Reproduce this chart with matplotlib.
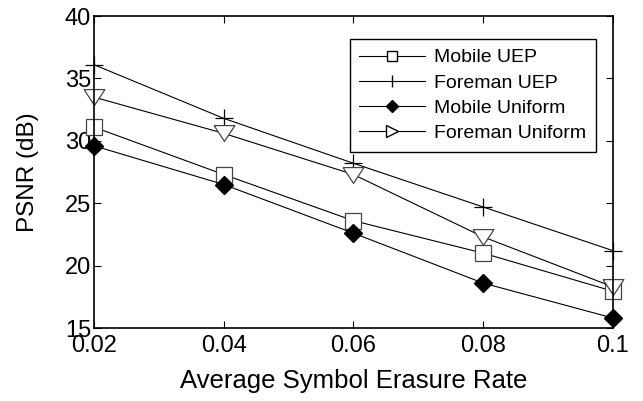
import numpy as np
import matplotlib
matplotlib.use("Agg")
import matplotlib.pyplot as plt
from matplotlib.lines import Line2D

plt.rcParams['font.family'] = ['Liberation Sans', 'DejaVu Sans']

# data
rate = [0.02, 0.04, 0.06, 0.08, 0.1]
mobile_uep = [31.1, 27.3, 23.6, 21.0, 17.95]
foreman_uep = [36.1, 31.8, 28.2, 24.7, 21.2]
mobile_uniform = [29.6, 26.5, 22.6, 18.6, 15.8]
foreman_uniform = [33.5, 30.6, 27.3, 22.3, 18.3]
labels = ['Mobile UEP', 'Foreman UEP', 'Mobile Uniform', 'Foreman Uniform']
xtick_labels = ['0.02', '0.04', '0.06', '0.08', '0.1']

# wide, flat down-triangle like matlab's 'v'
tri_down = [(-1, 0.76), (1, 0.76), (0, -0.76), (-1, 0.76)]

fig = plt.figure(figsize=(6.43, 4.01), dpi=100)
ax = fig.add_axes([0.1462, 0.182, 0.807, 0.778])

lw = 0.8
ax.plot(rate, mobile_uep, color='k', lw=lw, marker='s', ms=12, mfc='white', mec='#444444', mew=0.9, clip_on=False)
ax.plot(rate, foreman_uep, color='k', lw=lw, marker='+', ms=13, mew=0.9, clip_on=False)
ax.plot(rate, mobile_uniform, color='k', lw=lw, marker='D', ms=9, mfc='k', mec='k', clip_on=False)
ax.plot(rate, foreman_uniform, color='k', lw=lw, marker=tri_down, ms=15, mfc='white', mec='#444444', mew=0.9, clip_on=False)

ax.set_xlim(0.02, 0.1)
ax.set_ylim(15, 40)
ax.set_xticks(rate)
ax.set_xticklabels(xtick_labels)
ax.set_yticks([15, 20, 25, 30, 35, 40])
ax.tick_params(direction='in', length=5, width=0.8, top=True, right=True, labelsize=17)
ax.tick_params(axis='x', pad=5)
ax.tick_params(axis='y', pad=2)
for s in ax.spines.values():
    s.set_linewidth(1.2)

ax.set_xlabel('Average Symbol Erasure Rate', fontsize=18.5, labelpad=9)
ax.set_ylabel('PSNR (dB)', fontsize=17.5, labelpad=19)

# legend uses smaller markers and a right-pointing triangle
handles = [
    Line2D([], [], color='k', lw=lw, marker='s', ms=7, mfc='white', mec='k'),
    Line2D([], [], color='k', lw=lw, marker='|', ms=8),
    Line2D([], [], color='k', lw=lw, marker='D', ms=6, mfc='k', mec='k'),
    Line2D([], [], color='k', lw=lw, marker='>', ms=8, mfc='white', mec='k'),
]
leg = fig.legend(handles, labels, loc='upper right', bbox_to_anchor=(596 / 643, 1 - 39 / 401),
                 fontsize=14, frameon=True, fancybox=False, edgecolor='k', framealpha=1,
                 handlelength=3.4, handletextpad=0.45, borderpad=0.5, labelspacing=0.39,
                 borderaxespad=0)
leg.get_frame().set_linewidth(1.0)

fig.savefig('out.png', dpi=100)
